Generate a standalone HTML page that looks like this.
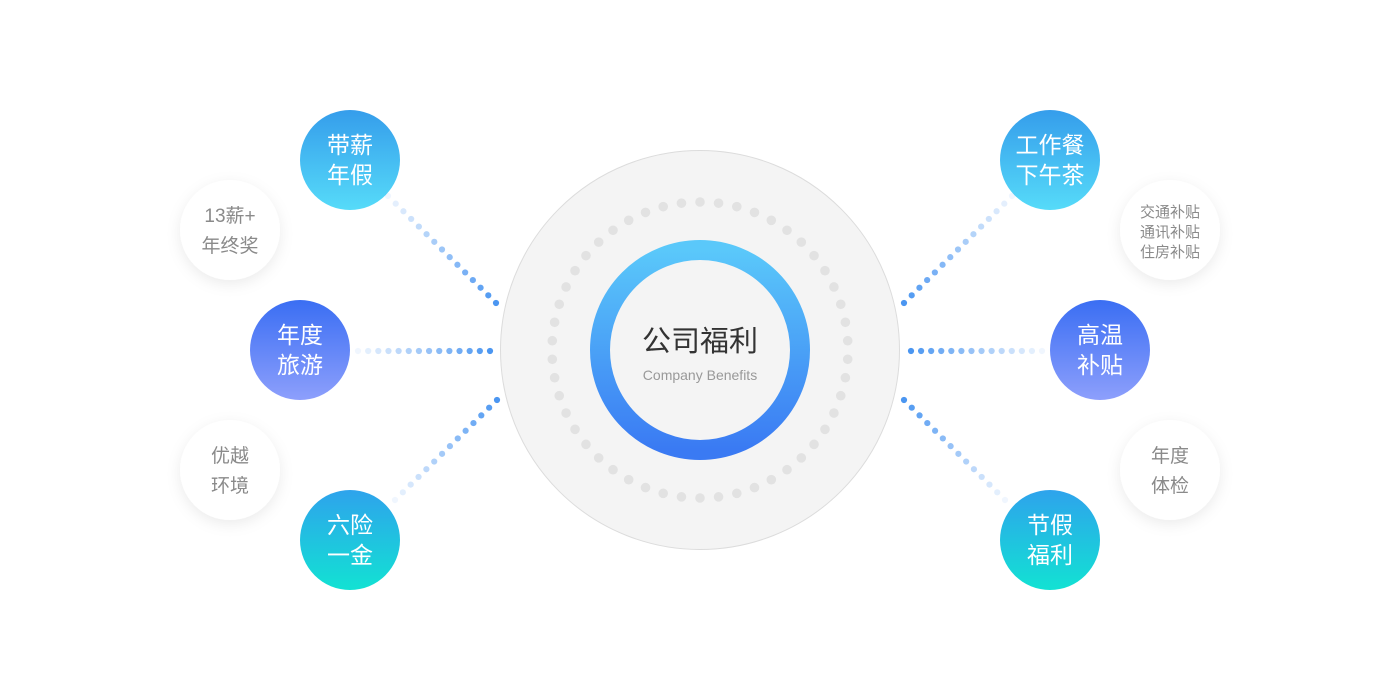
<!DOCTYPE html>
<html><head><meta charset="utf-8"><style>
html,body{margin:0;padding:0;background:#fff;width:1400px;height:700px;overflow:hidden}
text{font-family:"Liberation Sans","Noto Sans CJK SC",sans-serif}
</style></head><body>
<svg id="s" width="1400" height="700" xmlns="http://www.w3.org/2000/svg">
<defs>
<linearGradient id="ring" x1="0" y1="0" x2="0" y2="1"><stop offset="0" stop-color="#5ac8fa"/><stop offset="1" stop-color="#3a7af3"/></linearGradient>
<linearGradient id="g1" x1="0" y1="0" x2="0" y2="1"><stop offset="0" stop-color="#359deb"/><stop offset="1" stop-color="#56dbf9"/></linearGradient>
<linearGradient id="g2" x1="0" y1="0" x2="0" y2="1"><stop offset="0" stop-color="#3a6ef3"/><stop offset="1" stop-color="#8d9ffc"/></linearGradient>
<linearGradient id="g3" x1="0" y1="0" x2="0" y2="1"><stop offset="0" stop-color="#2ea3ec"/><stop offset="1" stop-color="#12e2d3"/></linearGradient>
<filter id="sh" x="-40%" y="-40%" width="180%" height="180%"><feDropShadow dx="0" dy="4" stdDeviation="7" flood-color="#000" flood-opacity="0.08"/></filter>
</defs>
<circle cx="700" cy="350" r="199.5" fill="#f4f4f4" stroke="#dcdcdc" stroke-width="1"/>
<g id="dots"></g>
<circle cx="700" cy="350" r="100" fill="none" stroke="url(#ring)" stroke-width="20"/>
<text x="700" y="351" text-anchor="middle" font-size="29" fill="#333">公司福利</text>
<text x="700" y="380" text-anchor="middle" font-size="14" fill="#999">Company Benefits</text>

<g filter="url(#sh)" fill="#fff">
<circle cx="230" cy="230" r="50"/><circle cx="230" cy="470" r="50"/>
<circle cx="1170" cy="230" r="50"/><circle cx="1170" cy="470" r="50"/>
</g>
<g font-size="19" fill="#8a8a8a" text-anchor="middle">
<text x="230" y="222">13薪+</text><text x="230" y="252">年终奖</text>
<text x="230" y="462">优越</text><text x="230" y="492">环境</text>
<text x="1170" y="462">年度</text><text x="1170" y="492">体检</text>
</g>
<g font-size="15" fill="#8a8a8a" text-anchor="middle">
<text x="1170" y="217">交通补贴</text><text x="1170" y="237">通讯补贴</text><text x="1170" y="257">住房补贴</text>
</g>

<circle cx="350" cy="160" r="50" fill="url(#g1)"/>
<circle cx="300" cy="350" r="50" fill="url(#g2)"/>
<circle cx="350" cy="540" r="50" fill="url(#g3)"/>
<circle cx="1050" cy="160" r="50" fill="url(#g1)"/>
<circle cx="1100" cy="350" r="50" fill="url(#g2)"/>
<circle cx="1050" cy="540" r="50" fill="url(#g3)"/>
<g font-size="23" fill="#fff" text-anchor="middle">
<text x="350" y="153">带薪</text><text x="350" y="183">年假</text>
<text x="300" y="343">年度</text><text x="300" y="373">旅游</text>
<text x="350" y="533">六险</text><text x="350" y="563">一金</text>
<text x="1050" y="153">工作餐</text><text x="1050" y="183">下午茶</text>
<text x="1100" y="343">高温</text><text x="1100" y="373">补贴</text>
<text x="1050" y="533">节假</text><text x="1050" y="563">福利</text>
</g>
<g id="lines"></g>
</svg>
<script>
var NS="http://www.w3.org/2000/svg";
var d=document.getElementById("dots");
var N=50;
for(var i=0;i<N;i++){var a=(i+0.5)/N*2*Math.PI;var c=document.createElementNS(NS,"circle");
c.setAttribute("cx",700+148*Math.cos(a));c.setAttribute("cy",350+148*Math.sin(a));c.setAttribute("r",4.8);c.setAttribute("fill","#e2e2e2");d.appendChild(c);}
var L=document.getElementById("lines");
function line(x1,y1,x2,y2,n){
 for(var i=0;i<n;i++){var t=i/(n-1);var c=document.createElementNS(NS,"circle");
 c.setAttribute("cx",x1+(x2-x1)*t);c.setAttribute("cy",y1+(y2-y1)*t);c.setAttribute("r",3.1);
 c.setAttribute("fill","#3d8ef0");c.setAttribute("fill-opacity",0.08+0.85*t);L.appendChild(c);}
}
line(388,196,496,303,15);
line(358,351,490,351,14);
line(395,500,497,400,14);
line(1012,196,904,303,15);
line(1042,351,911,351,14);
line(1005,500,904,400,14);
</script>
</body></html>
